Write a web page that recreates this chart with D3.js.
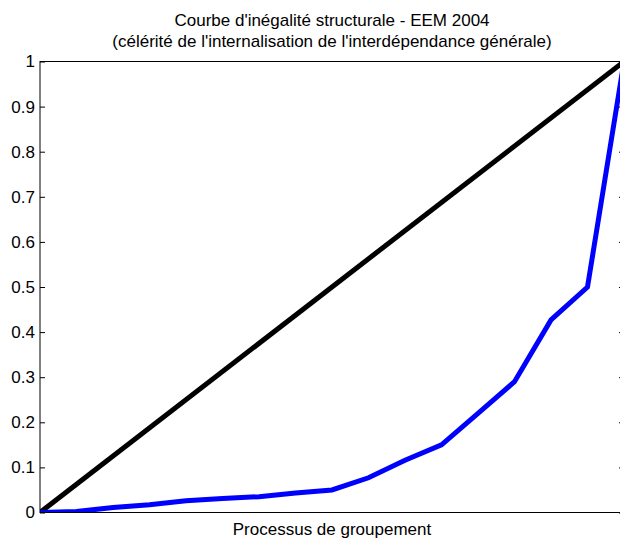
<!DOCTYPE html>
<html>
<head>
<meta charset="utf-8">
<script src="https://cdn.jsdelivr.net/npm/d3@7"></script>
<style>
  html, body { margin: 0; padding: 0; background: #fff; overflow: hidden; }
  svg { display: block; }
  text { font-family: "Liberation Sans", Arial, sans-serif; fill: #000; }
</style>
</head>
<body>
<div id="chart"></div>
<script>
// Titles and labels
const titleLines = [
  "Courbe d'inégalité structurale - EEM 2004",
  "(célérité de l'internalisation de l'interdépendance générale)"
];
const xLabel = "Processus de groupement";

// Cumulative share along the grouping process (17 evenly spaced steps)
const steps = d3.range(17).map(i => i / 16);
const curveValues = [0, 0.002, 0.011, 0.017, 0.026, 0.031, 0.035, 0.043, 0.05,
                     0.077, 0.116, 0.15, 0.22, 0.29, 0.427, 0.5, 1.0];
// Equality line
const equalityX = [0, 1];
const equalityY = [0, 1];

// Y tick labels
const yTicks = [0, 0.1, 0.2, 0.3, 0.4, 0.5, 0.6, 0.7, 0.8, 0.9, 1];
const yTickLabels = ["0", "0.1", "0.2", "0.3", "0.4", "0.5", "0.6", "0.7", "0.8", "0.9", "1"];

const W = 620, H = 538;
const m = { left: 40, right: 624, top: 61.5, bottom: 512.5 };
const fontSize = "17px";

const svg = d3.select("#chart").append("svg")
  .attr("width", W).attr("height", H);

const x = d3.scaleLinear().domain([0, 1]).range([m.left, m.right]);
const y = d3.scaleLinear().domain([0, 1]).range([m.bottom, m.top]);

// Title
svg.append("g").selectAll("text").data(titleLines).join("text")
  .attr("x", (m.left + m.right) / 2)
  .attr("y", (d, i) => 26 + i * 21)
  .attr("text-anchor", "middle")
  .style("font-size", fontSize)
  .text(d => d);

// Plot clip so lines stay inside the axes box
svg.append("clipPath").attr("id", "plot-clip")
  .append("rect").attr("x", m.left).attr("y", m.top)
  .attr("width", m.right - m.left).attr("height", m.bottom - m.top);

const plot = svg.append("g").attr("clip-path", "url(#plot-clip)");

const line = d3.line().x(d => x(d[0])).y(d => y(d[1]));

plot.append("path")
  .datum(equalityX.map((v, i) => [v, equalityY[i]]))
  .attr("d", line)
  .attr("fill", "none")
  .attr("stroke", "#000")
  .attr("stroke-width", 5);

plot.append("path")
  .datum(steps.map((v, i) => [v, curveValues[i]]))
  .attr("d", line)
  .attr("fill", "none")
  .attr("stroke", "#0000ff")
  .attr("stroke-width", 5)
  .attr("stroke-linejoin", "miter");

// Left axis with inward ticks
const yAxisLeft = d3.axisRight(y).tickValues(yTicks)
  .tickFormat((d, i) => yTickLabels[i]).tickSize(5);
const gL = svg.append("g").attr("transform", `translate(${m.left},0)`).call(yAxisLeft);
gL.select(".domain").remove();
gL.selectAll("text").attr("x", -5).attr("text-anchor", "end")
  .style("font-size", fontSize).style("font-family", "'Liberation Sans', Arial, sans-serif");
gL.selectAll("line").attr("stroke", "#000");

// Right axis with inward ticks, no labels
const yAxisRight = d3.axisLeft(y).tickValues(yTicks).tickFormat("").tickSize(5);
const gR = svg.append("g").attr("transform", `translate(${m.right},0)`).call(yAxisRight);
gR.select(".domain").remove();
gR.selectAll("line").attr("stroke", "#000");

// Axes box
svg.append("rect")
  .attr("x", m.left).attr("y", m.top)
  .attr("width", m.right - m.left).attr("height", m.bottom - m.top)
  .attr("fill", "none").attr("stroke", "#000").attr("stroke-width", 1);

// X label
svg.append("text")
  .attr("x", (m.left + m.right) / 2)
  .attr("y", 535)
  .attr("text-anchor", "middle")
  .style("font-size", fontSize)
  .text(xLabel);
</script>
</body>
</html>
